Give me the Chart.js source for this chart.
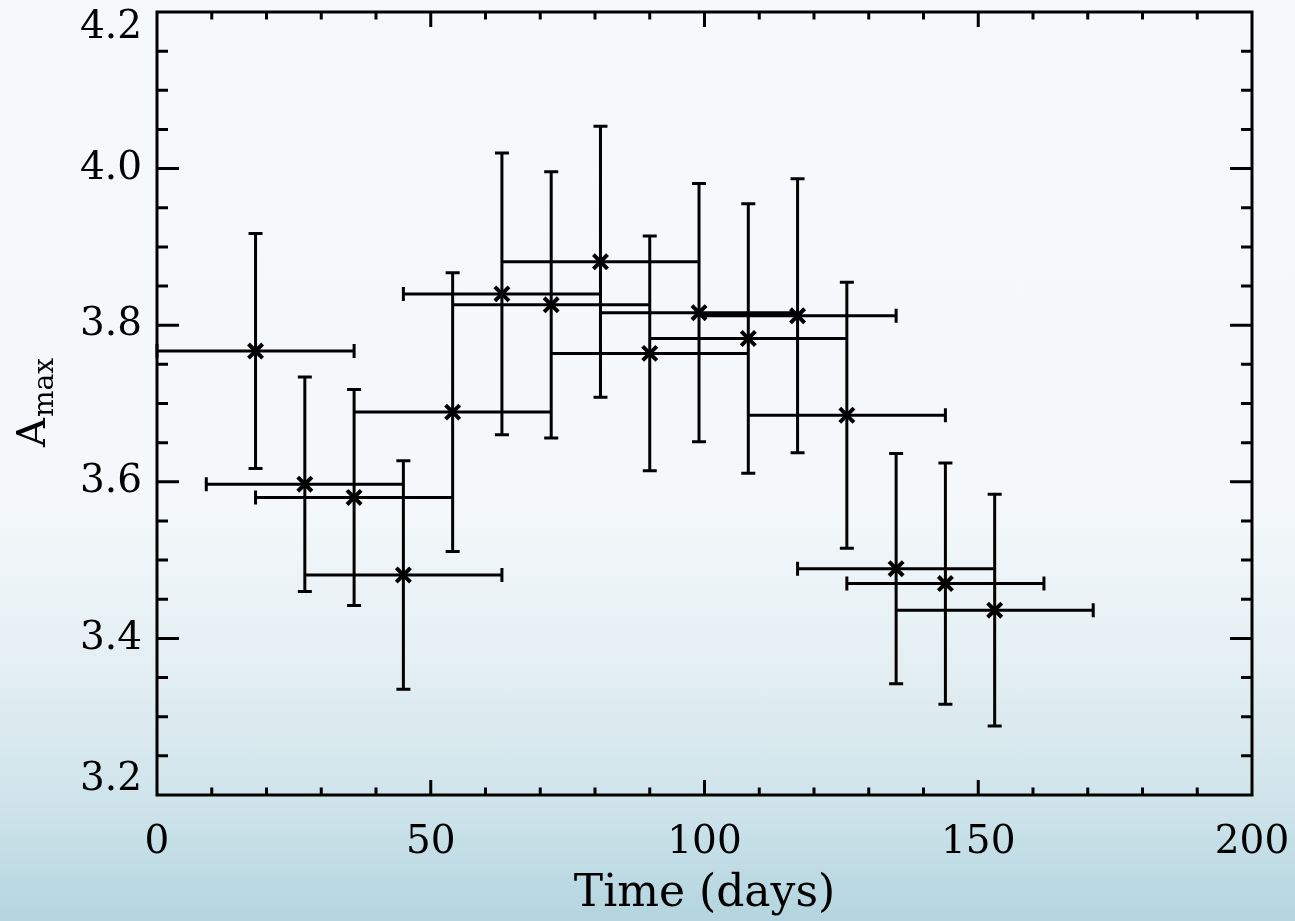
<!DOCTYPE html>
<html>
<head>
<meta charset="utf-8">
<script src="https://cdn.jsdelivr.net/npm/chart.js@4/dist/chart.umd.min.js"></script>
<style>
  html, body { margin: 0; padding: 0; }
  body {
    width: 1295px; height: 921px; overflow: hidden;
    background: linear-gradient(180deg, #f5f9fb 0%, #f4f8fa 55%, #e4eff3 72%, #cde3ea 88%, #b3d5df 100%);
  }
  canvas { display: block; }
</style>
</head>
<body>
<canvas id="amax" width="1295" height="921"></canvas>
<script>
const times    = [18, 27, 36, 45, 54, 63, 72, 81, 90, 99, 108, 117, 126, 135, 144, 153];
const timeErr  = [18, 18, 18, 18, 18, 18, 18, 18, 18, 18, 18, 18, 18, 18, 18, 18];
const amax     = [3.767, 3.597, 3.580, 3.481, 3.689, 3.840, 3.826, 3.881,
                  3.764, 3.816, 3.783, 3.812, 3.685, 3.489, 3.470, 3.436];
const amaxErr  = [0.150, 0.137, 0.138, 0.146, 0.178, 0.180, 0.170, 0.173,
                  0.150, 0.165, 0.172, 0.175, 0.170, 0.147, 0.154, 0.148];

const xTicks = [0, 50, 100, 150, 200];
const yTicks = [3.2, 3.4, 3.6, 3.8, 4.0, 4.2];

const FONT = '"DejaVu Serif", "Liberation Serif", serif';
const LW = 3;

// error bars with caps, drawn under the markers
const errorBars = {
  id: 'errorBars',
  beforeDatasetsDraw(chart) {
    const { ctx, scales: { x, y } } = chart;
    ctx.save();
    ctx.strokeStyle = '#000';
    ctx.lineWidth = LW;
    ctx.beginPath();
    times.forEach((t, i) => {
      const px = x.getPixelForValue(t);
      const py = y.getPixelForValue(amax[i]);
      const top = y.getPixelForValue(amax[i] + amaxErr[i]);
      const bot = y.getPixelForValue(amax[i] - amaxErr[i]);
      const left = x.getPixelForValue(t - timeErr[i]);
      const right = x.getPixelForValue(t + timeErr[i]);
      ctx.moveTo(px, top); ctx.lineTo(px, bot);
      ctx.moveTo(px - 7, top); ctx.lineTo(px + 7, top);
      ctx.moveTo(px - 7, bot); ctx.lineTo(px + 7, bot);
      ctx.moveTo(left, py); ctx.lineTo(right, py);
      ctx.moveTo(left, py - 7); ctx.lineTo(left, py + 7);
      ctx.moveTo(right, py - 7); ctx.lineTo(right, py + 7);
    });
    ctx.stroke();
    ctx.restore();
  }
};

// IDL style box with inward major/minor ticks on all four sides, and the y title
const frame = {
  id: 'frame',
  afterDraw(chart) {
    const { ctx, chartArea: a, scales: { x, y } } = chart;
    ctx.save();
    ctx.strokeStyle = '#000';
    ctx.lineWidth = LW;
    ctx.beginPath();
    ctx.rect(a.left, a.top, a.right - a.left, a.bottom - a.top);
    for (let v = 0; v <= 200; v += 10) {
      const px = x.getPixelForValue(v);
      const len = v % 50 === 0 ? 15 : 7.5;
      ctx.moveTo(px, a.bottom); ctx.lineTo(px, a.bottom - len);
      ctx.moveTo(px, a.top); ctx.lineTo(px, a.top + len);
    }
    for (let k = 0; k <= 20; k++) {
      const py = y.getPixelForValue(3.2 + k * 0.05);
      const len = k % 4 === 0 ? 22 : 11;
      ctx.moveTo(a.left, py); ctx.lineTo(a.left + len, py);
      ctx.moveTo(a.right, py); ctx.lineTo(a.right - len, py);
    }
    ctx.stroke();

    // A with subscript "max", rotated
    ctx.translate(45, 425);
    ctx.rotate(-Math.PI / 2);
    ctx.fillStyle = '#000';
    ctx.textBaseline = 'alphabetic';
    ctx.font = '40px ' + FONT;
    ctx.fillText('A', -22, 0);
    const w = ctx.measureText('A').width;
    ctx.font = '28px ' + FONT;
    ctx.fillText('max', -22 + w + 1, 8);
    ctx.restore();
  }
};

new Chart(document.getElementById('amax'), {
  type: 'scatter',
  data: {
    datasets: [{
      data: times.map((t, i) => ({ x: t, y: amax[i] })),
      pointStyle: 'crossRot',
      radius: 10,
      borderColor: '#000',
      backgroundColor: '#000',
      borderWidth: 4
    }]
  },
  options: {
    responsive: false,
    animation: false,
    layout: { autoPadding: false, padding: { top: 12, right: 43, left: 0, bottom: 0 } },
    plugins: { legend: { display: false }, tooltip: { enabled: false } },
    scales: {
      x: {
        type: 'linear',
        min: 0,
        max: 200,
        afterBuildTicks: s => { s.ticks = xTicks.map(v => ({ value: v })); },
        afterFit: s => { s.height = 126; s.paddingLeft = 0; s.paddingRight = 0; },
        grid: { display: false, drawTicks: false },
        border: { display: false },
        ticks: { color: '#000', font: { family: FONT, size: 39 }, padding: 24, maxRotation: 0 },
        title: {
          display: true,
          text: 'Time (days)',
          color: '#000',
          font: { family: FONT, size: 44 },
          padding: { top: 0, bottom: 0 }
        }
      },
      y: {
        min: 3.2,
        max: 4.2,
        afterBuildTicks: s => { s.ticks = yTicks.map(v => ({ value: v })); },
        afterFit: s => { s.width = 157; s.paddingTop = 0; s.paddingBottom = 0; },
        grid: { display: false, drawTicks: false },
        border: { display: false },
        ticks: {
          color: '#000',
          font: { family: FONT, size: 39, lineHeight: 0.8 },
          padding: 15,
          // end labels are nudged inside the frame, as in the original plot
          callback: v => {
            const s = v.toFixed(1);
            if (v === yTicks[yTicks.length - 1]) return ['', s];
            if (v === yTicks[0]) return [s, ''];
            return s;
          }
        }
      }
    }
  },
  plugins: [errorBars, frame]
});
</script>
</body>
</html>
